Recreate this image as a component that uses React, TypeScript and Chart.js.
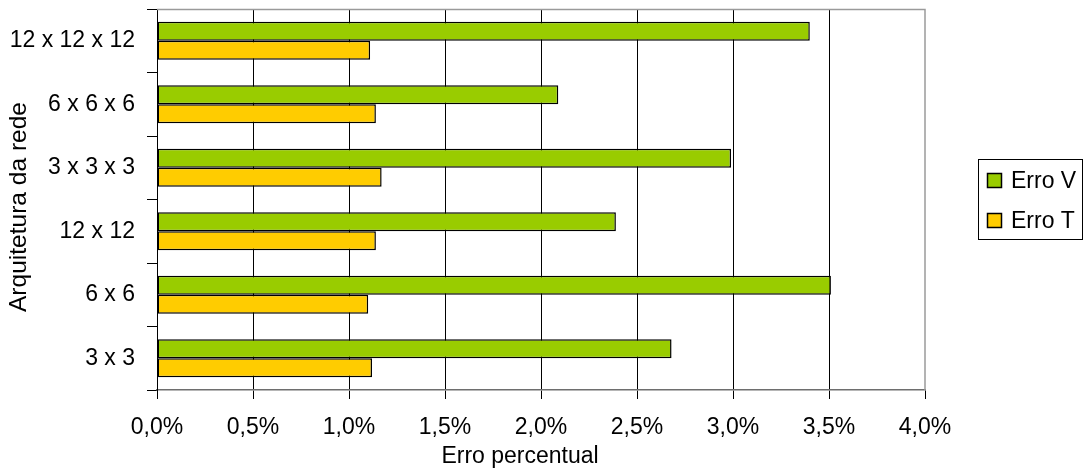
import { useEffect, useRef } from 'react';
import { Chart, registerables } from 'chart.js';

Chart.register(...registerables);

// Network architectures (top to bottom)
const categories = ['12 x 12 x 12', '6 x 6 x 6', '3 x 3 x 3', '12 x 12', '6 x 6', '3 x 3'];
// Percentage errors
const erroV = [3.4, 2.09, 2.99, 2.39, 3.51, 2.68];
const erroT = [1.11, 1.14, 1.17, 1.14, 1.1, 1.12];

const seriesNames = ['Erro V', 'Erro T'];
const seriesColors = ['#99CC00', '#FFCC00'];

const xAxisTitle = 'Erro percentual';
const yAxisTitle = 'Arquitetura da rede';
const xMin = 0;
const xMax = 4;
const xStep = 0.5;

const FONT = "'Liberation Sans', Arial, sans-serif";
const W = 1086;
const H = 473;

const fmtPct = (v: number) => v.toFixed(1).replace('.', ',') + '%';

// Gray frame on top and right of the plot area
const framePlugin = {
  id: 'frame',
  afterDatasetsDraw(chart: any) {
    const { ctx, chartArea } = chart;
    ctx.save();
    ctx.strokeStyle = '#9a9a9a';
    ctx.lineWidth = 1.5;
    ctx.beginPath();
    ctx.moveTo(chartArea.left, chartArea.top + 0.5);
    ctx.lineTo(chartArea.right, chartArea.top + 0.5);
    ctx.lineTo(chartArea.right, chartArea.bottom);
    ctx.stroke();
    ctx.restore();
  },
};

// Axis titles
const titlesPlugin = {
  id: 'axisTitles',
  afterDraw(chart: any) {
    const { ctx } = chart;
    ctx.save();
    ctx.fillStyle = '#000';
    ctx.font = `23px ${FONT}`;
    ctx.textAlign = 'center';
    ctx.textBaseline = 'middle';
    ctx.fillText(xAxisTitle, 520, 457);

    ctx.translate(19, 207);
    ctx.rotate(-Math.PI / 2);
    ctx.font = `24px ${FONT}`;
    const w = ctx.measureText(yAxisTitle).width;
    ctx.scale(210 / w, 1);
    ctx.fillText(yAxisTitle, 0, 0);
    ctx.restore();
  },
};

// Boxed legend on the right
const legendPlugin = {
  id: 'boxLegend',
  afterDraw(chart: any) {
    const { ctx } = chart;
    const boxX = 978.5;
    const boxY = 159.5;
    const boxW = 104;
    const boxH = 80;
    ctx.save();
    ctx.strokeStyle = '#000';
    ctx.lineWidth = 1;
    ctx.strokeRect(boxX, boxY, boxW, boxH);
    ctx.font = `23px ${FONT}`;
    ctx.textBaseline = 'middle';
    ctx.textAlign = 'left';
    chart.data.datasets.forEach((ds: any, i: number) => {
      const cy = boxY + 21 + i * 40;
      ctx.fillStyle = ds.backgroundColor;
      ctx.fillRect(987.5, cy - 7, 14, 14);
      ctx.lineWidth = 1.5;
      ctx.strokeStyle = '#000';
      ctx.strokeRect(987.5, cy - 7, 14, 14);
      ctx.fillStyle = '#000';
      ctx.fillText(ds.label, 1011, cy + 1);
    });
    ctx.restore();
  },
};

export default function App() {
  const canvasRef = useRef<HTMLCanvasElement | null>(null);

  useEffect(() => {
    document.body.style.margin = '0';
    const canvas = canvasRef.current;
    if (!canvas) return;

    const chart = new Chart(canvas, {
      type: 'bar',
      data: {
        labels: categories,
        datasets: [
          {
            label: seriesNames[0],
            data: erroV,
            backgroundColor: seriesColors[0],
            borderColor: '#000',
            borderWidth: 1.5,
            borderSkipped: false,
            categoryPercentage: 0.6,
            barPercentage: 1,
          },
          {
            label: seriesNames[1],
            data: erroT,
            backgroundColor: seriesColors[1],
            borderColor: '#000',
            borderWidth: 1.5,
            borderSkipped: false,
            categoryPercentage: 0.6,
            barPercentage: 1,
          },
        ],
      },
      options: {
        indexAxis: 'y',
        responsive: false,
        animation: false,
        devicePixelRatio: 1,
        layout: { padding: { top: 9, right: 161, left: 0, bottom: 0 } },
        font: { family: FONT, size: 23 },
        plugins: {
          legend: { display: false },
          tooltip: { enabled: false },
          title: { display: false },
        },
        scales: {
          x: {
            type: 'linear',
            min: xMin,
            max: xMax,
            afterFit: (scale: any) => {
              scale.height = 83;
              scale.paddingLeft = 0;
              scale.paddingRight = 0;
            },
            ticks: {
              stepSize: xStep,
              color: '#000',
              font: { family: FONT, size: 23 },
              padding: 15,
              callback: (v: any) => fmtPct(Number(v)),
            },
            grid: {
              color: (c: any) =>
                c.index === 0 || Number(c.tick?.value) >= xMax ? 'rgba(0,0,0,0)' : '#000',
              lineWidth: 1,
              tickColor: '#000',
              tickLength: 9,
              drawTicks: true,
            },
            border: { color: '#6e6e6e', width: 1.5 },
          },
          y: {
            type: 'category',
            afterFit: (scale: any) => {
              scale.width = 157;
              scale.paddingTop = 0;
              scale.paddingBottom = 0;
            },
            ticks: {
              color: '#000',
              font: { family: FONT, size: 23 },
              padding: 12,
            },
            grid: {
              drawOnChartArea: false,
              drawTicks: true,
              tickLength: 10,
              tickColor: '#000',
              offset: true,
            },
            border: { color: '#000', width: 1 },
          },
        },
      },
      plugins: [framePlugin, titlesPlugin, legendPlugin],
    } as any);

    return () => chart.destroy();
  }, []);

  return (
    <div style={{ width: W, height: H, background: '#fff' }}>
      <canvas ref={canvasRef} width={W} height={H} style={{ display: 'block' }} />
    </div>
  );
}
